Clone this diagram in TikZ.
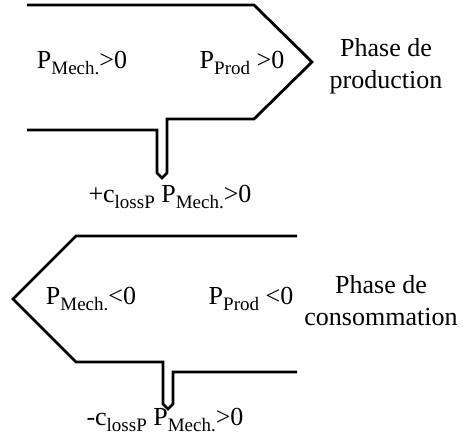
\documentclass[tikz,border=0pt]{standalone}
\usepackage{fontspec}
\setmainfont{Liberation Serif}
\newcommand{\sbs}[1]{\raisebox{-0.24em}{\fontsize{19}{19}\selectfont #1}}
\begin{document}
\begin{tikzpicture}[x=1pt,y=-1pt,
  outline/.style={line width=2.8pt, line join=miter},
  lbl/.style={inner sep=0pt, font=\fontsize{26}{32}\selectfont, align=center}]
\useasboundingbox (0,0) rectangle (464,439);
% top shape (production)
\draw[outline] (27,5) -- (254,5) -- (312,62) -- (254,119) -- (167,119) -- (167,173) -- (162,178) -- (157,173) -- (157,130) -- (27,130);
% bottom shape (consommation)
\draw[outline] (297,236) -- (76,236) -- (13,299) -- (76,362) -- (163,362) -- (163,404) -- (168,409) -- (173,404) -- (173,372) -- (297,372);
% labels
\node[lbl] (pm1) at (82,63) {P\sbs{Mech.}>0};
\node[lbl] (pp1) at (242,63) {P\sbs{Prod} >0};
\node[lbl] (ph1) at (386,66) {Phase de\\production};
\node[lbl] (lo1) at (170,197) {+c\sbs{lossP} P\sbs{Mech.}>0};
\node[lbl] (pm2) at (91,299) {P\sbs{Mech.}<0};
\node[lbl] (pp2) at (251,299) {P\sbs{Prod} <0};
\node[lbl] (ph2) at (381,301) {Phase de\\consommation};
\node[lbl] (lo2) at (165,420) {-c\sbs{lossP} P\sbs{Mech.}>0};
\end{tikzpicture}
\end{document}
